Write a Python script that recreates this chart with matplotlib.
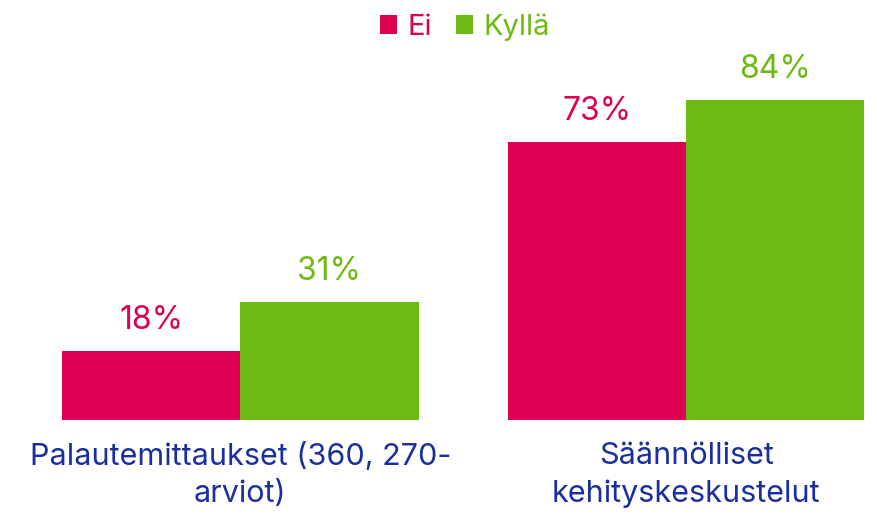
import matplotlib.pyplot as plt
import numpy as np

plt.rcParams['font.family'] = ['Inter', 'DejaVu Sans']

categories = ["Palautemittaukset (360, 270-\narviot)", "Säännölliset\nkehityskeskustelut"]
series = ["Ei", "Kyllä"]
ei = [18, 73]
kylla = [31, 84]
colors = ["#DE0052", "#6DBA12"]
label_color = "#1A2E9E"

fig = plt.figure(figsize=(8.77, 5.14), dpi=100)
ax = fig.add_axes([0, 94 / 514, 1, 381 / 514])

x = np.arange(len(categories))
w = 0.4
for off, vals, col, name in [(-w / 2, ei, colors[0], series[0]), (w / 2, kylla, colors[1], series[1])]:
    bars = ax.bar(x + off, vals, w, color=col, label=name)
    for b, v in zip(bars, vals):
        ax.text(b.get_x() + b.get_width() / 2, v + 4, f"{v}%", ha="center", va="bottom",
                color=col, fontsize=23)

ax.set_xlim(-0.4 - 62 / 446, 1 + 191 / 446)
ax.set_ylim(0, 100)
ax.set_xticks(x)
ax.set_xticklabels(categories, fontsize=22, color=label_color, linespacing=1.4)
ax.tick_params(axis="x", length=0, pad=16)
ax.set_yticks([])
for s in ax.spines.values():
    s.set_visible(False)

fig.legend(loc="upper center", bbox_to_anchor=(0.53, 1.025), ncol=2, frameon=False,
           handlelength=0.6, handleheight=0.6, handletextpad=0.35, columnspacing=0.8,
           prop={"size": 21})
for t, c in zip(fig.legends[0].get_texts(), colors):
    t.set_color(c)

fig.savefig("out.png", dpi=100)
